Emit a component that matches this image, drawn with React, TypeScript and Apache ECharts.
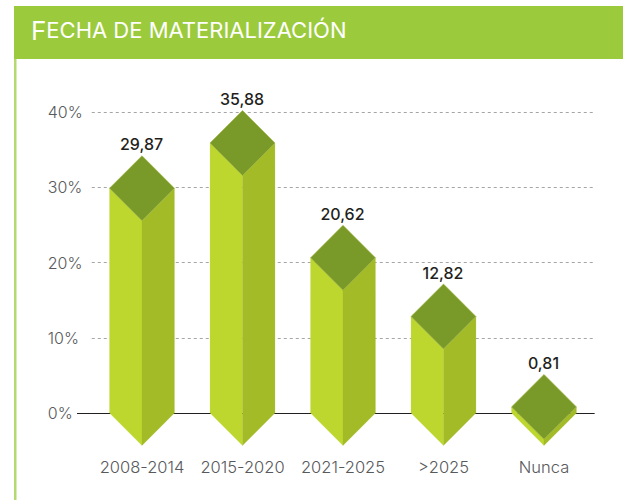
import React, { useEffect, useRef } from "react";
import * as echarts from "echarts";

const categories = ["2008-2014", "2015-2020", "2021-2025", ">2025", "Nunca"];
const values = [29.87, 35.88, 20.62, 12.82, 0.81];
const yTicks = { min: 0, max: 40, interval: 10 };
const titleInitial = "F";
const titleRest = "ECHA DE MATERIALIZACIÓN";
const FONT = "Inter, 'Noto Sans', sans-serif";

const renderPrism = (params: any, api: any) => {
  const idx = api.value(0);
  const val = api.value(1);
  const [cx, yv] = api.coord([idx, val]);
  const [, y0] = api.coord([idx, 0]);
  const band = api.size([1, 0])[0];
  const hw = band * 0.323;
  const hh = hw;
  const poly = (points: number[][], fill: string, stroke?: string) => ({
    type: "polygon",
    shape: { points },
    style: { fill, stroke: stroke || fill, lineWidth: stroke ? 0.6 : 0.2 },
  });
  return {
    type: "group",
    children: [
      poly([[cx - hw, yv], [cx, yv + hh], [cx, y0 + hh], [cx - hw, y0]], "#BDD72E"),
      poly([[cx + hw, yv], [cx, yv + hh], [cx, y0 + hh], [cx + hw, y0]], "#A3BB27"),
      poly([[cx - hw, yv], [cx, yv - hh], [cx + hw, yv], [cx, yv + hh]], "#799A28", "#9DB63A"),
      {
        type: "text",
        style: {
          x: cx - 0.5,
          y: yv - hh - 11.5,
          text: val.toFixed(2).replace(".", ","),
          fill: "#231F20",
          font: `500 16px ${FONT}`,
          align: "center",
          verticalAlign: "middle",
        },
      },
    ],
  };
};

export default function App() {
  const ref = useRef<HTMLDivElement>(null);
  useEffect(() => {
    document.body.style.margin = "0";
    const chart = echarts.init(ref.current!, undefined, { renderer: "svg" });
    chart.setOption({
      animation: false,
      backgroundColor: "#fff",
      grid: { left: 91.75, right: 28.75, top: 112, bottom: 87 },
      xAxis: {
        type: "category",
        data: categories,
        axisLine: { show: true, lineStyle: { color: "#231F20", width: 1 } },
        axisTick: { show: false },
        axisLabel: {
          color: "#58595B",
          fontSize: 16.5,
          fontFamily: FONT,
          fontWeight: 300,
          margin: 45,
          interval: 0,
          hideOverlap: false,
        },
      },
      yAxis: {
        type: "value",
        ...yTicks,
        axisLine: { show: false },
        axisTick: { show: false },
        axisLabel: {
          formatter: "{value}%",
          color: "#58595B",
          fontSize: 16,
          fontFamily: FONT,
          fontWeight: 300,
          align: "left",
          margin: 44,
        },
        splitLine: { show: true, lineStyle: { color: "#a5a5a5", type: [3, 3], width: 1 } },
      },
      series: [
        {
          type: "custom",
          renderItem: renderPrism,
          clip: false,
          encode: { x: 0, y: 1 },
          data: values.map((v, i) => [i, v]),
        },
      ],
      graphic: [
        { type: "rect", z: -1, shape: { x: 14, y: 6, width: 609, height: 53 }, style: { fill: "#9BCB3C" } },
        { type: "rect", z: -1, shape: { x: 14, y: 59, width: 2.5, height: 441 }, style: { fill: "#B5D96F" } },
        { type: "line", z: -1, shape: { x1: 77, y1: 413.5, x2: 92, y2: 413.5 }, style: { stroke: "#231F20", lineWidth: 1 } },
        {
          type: "text",
          x: 31,
          y: 43,
          style: {
            text: `{a|${titleInitial}}{b|${titleRest}}`,
            fill: "#fff",
            verticalAlign: "bottom",
            rich: {
              a: { fontSize: 26, fill: "#fff", fontFamily: FONT, fontWeight: 400 },
              b: { fontSize: 22, fill: "#fff", fontFamily: FONT, fontWeight: 400 },
            },
          },
        },
      ],
    });
    return () => chart.dispose();
  }, []);
  return <div ref={ref} style={{ width: 623, height: 500 }} />;
}
